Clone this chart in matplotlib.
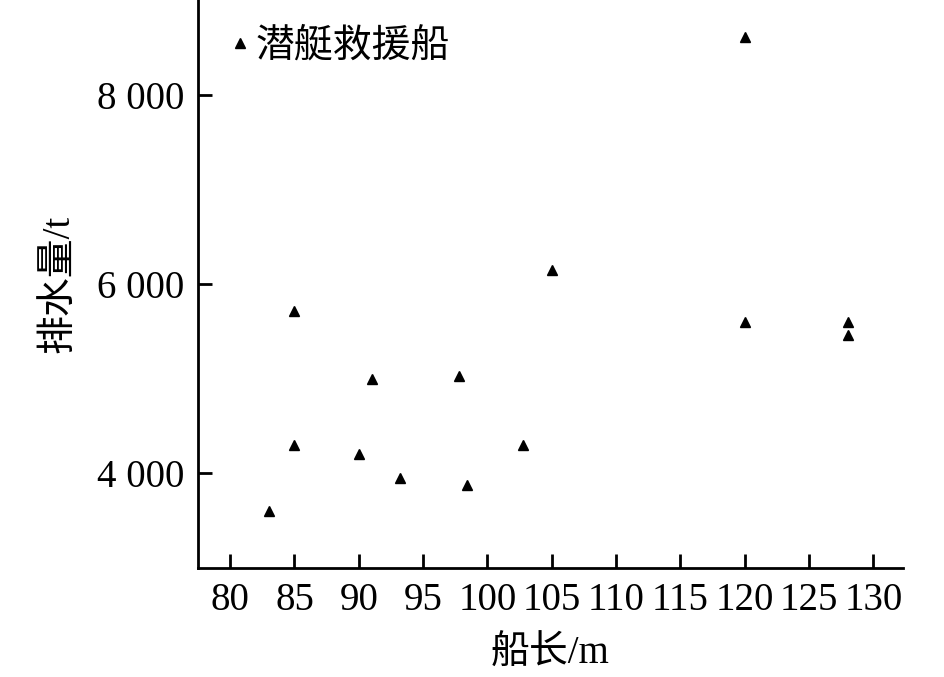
import matplotlib.pyplot as plt
from matplotlib.ticker import FuncFormatter

# --- data ---
length_m = [83, 85, 85, 90, 91, 93.2, 97.8, 98.4, 102.8, 105, 120, 120, 128, 128]
displacement_t = [3600, 5710, 4300, 4200, 5000, 3950, 5030, 3880, 4300, 6150, 8610, 5600, 5600, 5460]
series_label = "潜艇救援船"

x_ticks = [80, 85, 90, 95, 100, 105, 110, 115, 120, 125, 130]
y_ticks = [4000, 6000, 8000]

plt.rcParams['font.family'] = ['Liberation Serif', 'Noto Sans CJK SC']
plt.rcParams['axes.unicode_minus'] = False

fig = plt.figure(figsize=(9.45, 6.77), dpi=100)
ax = fig.add_axes([0.2095, 0.161, 0.7461, 0.839])

ax.plot(length_m, displacement_t, linestyle='none', marker='^', ms=7,
        color='black', label=series_label)

ax.set_xlim(77.5, 132.3)
ax.set_ylim(3000, 9000)
ax.set_xticks(x_ticks)
ax.set_yticks(y_ticks)
ax.yaxis.set_major_formatter(FuncFormatter(lambda v, p: f"{int(v):,}".replace(",", " ")))

for s in ['top', 'right']:
    ax.spines[s].set_visible(False)
for s in ['left', 'bottom']:
    ax.spines[s].set_linewidth(2)

ax.tick_params(direction='in', length=10, width=2, labelsize=28, pad=10)

ax.set_xlabel("船长/m", fontsize=28, labelpad=12)
ax.set_ylabel("排水量/t", fontsize=28, labelpad=14)

ax.legend(loc='upper left', frameon=False, fontsize=28, handlelength=0.6,
          handletextpad=0.1, borderaxespad=0.2, bbox_to_anchor=(0.01, 0.99))

fig.savefig("out.png", dpi=100)
